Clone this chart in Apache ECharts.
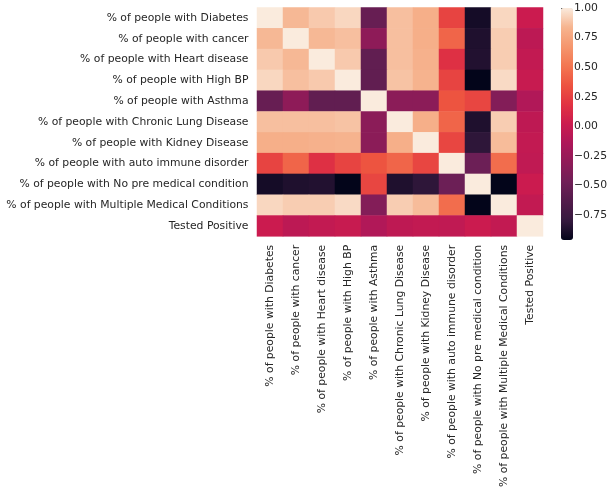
<!DOCTYPE html>
<html>
<head>
<meta charset="utf-8">
<script src="https://cdn.jsdelivr.net/npm/echarts@6/dist/echarts.min.js"></script>
<style>
  html, body { margin: 0; padding: 0; background: #fff; }
  #chart { width: 610px; height: 490px; }
</style>
</head>
<body>
<div id="chart"></div>
<script>
const labels = [
  "% of people with Diabetes",
  "% of people with cancer",
  "% of people with Heart disease",
  "% of people with High BP",
  "% of people with Asthma",
  "% of people with Chronic Lung Disease",
  "% of people with Kidney Disease",
  "% of people with auto immune disorder",
  "% of people with No pre medical condition",
  "% of people with Multiple Medical Conditions",
  "Tested Positive",
];

// correlation matrix, rows in label order
const corr = [
  [1.00, 0.85, 0.90, 0.94, -0.52, 0.87, 0.81, 0.27, -0.90, 0.94, 0.02],
  [0.85, 1.00, 0.85, 0.87, -0.31, 0.87, 0.81, 0.43, -0.87, 0.91, -0.06],
  [0.90, 0.85, 1.00, 0.90, -0.55, 0.87, 0.82, 0.16, -0.86, 0.91, -0.03],
  [0.94, 0.87, 0.90, 1.00, -0.55, 0.88, 0.83, 0.27, -0.96, 0.95, 0.00],
  [-0.52, -0.31, -0.55, -0.55, 1.00, -0.33, -0.33, 0.35, 0.28, -0.37, -0.12],
  [0.87, 0.87, 0.87, 0.88, -0.33, 1.00, 0.81, 0.43, -0.87, 0.91, -0.05],
  [0.81, 0.81, 0.82, 0.83, -0.33, 0.81, 1.00, 0.28, -0.82, 0.86, -0.03],
  [0.27, 0.43, 0.16, 0.27, 0.35, 0.43, 0.28, 1.00, -0.49, 0.47, -0.04],
  [-0.90, -0.87, -0.86, -0.96, 0.28, -0.87, -0.82, -0.49, 1.00, -0.96, 0.02],
  [0.94, 0.91, 0.91, 0.95, -0.37, 0.91, 0.86, 0.47, -0.96, 1.00, -0.03],
  [0.02, -0.06, -0.03, 0.00, -0.12, -0.05, -0.03, -0.04, 0.02, -0.03, 1.00],
];

const cbarTicks = [-0.75, -0.5, -0.25, 0, 0.25, 0.5, 0.75, 1];

// seaborn "rocket", sampled evenly
const ROCKET = [
  "#03051a", "#35193e", "#521c4b", "#701f57", "#8f1b58", "#ad1759", "#cb1b4f",
  "#e13342", "#ed5340", "#f37651", "#f5966d", "#f6b48f", "#faebdd",
];

const cells = [];
corr.forEach((row, y) => row.forEach((v, x) => cells.push([x, y, v])));
const allVals = corr.flat();
const vmin = Math.min(...allVals);
const vmax = Math.max(...allVals);

const FONT = "DejaVu Sans";
const TEXT = "#262626";
const FS = 10.8;

const chart = echarts.init(document.getElementById("chart"), null, { renderer: "canvas" });

chart.setOption({
  animation: false,
  textStyle: { fontFamily: FONT },
  grid: [
    { left: 257, top: 7.5, width: 286, height: 233 },
    { left: 561, top: 8, width: 12, height: 232 },
  ],
  xAxis: [
    {
      type: "category",
      gridIndex: 0,
      data: labels,
      axisLine: { show: false },
      axisTick: { alignWithLabel: true, length: 3.5, lineStyle: { color: TEXT, width: 0.8 } },
      axisLabel: { rotate: 90, interval: 0, margin: 8.5, fontSize: FS, color: TEXT, fontFamily: FONT },
      splitLine: { show: false },
    },
    { type: "value", gridIndex: 1, show: false, min: 0, max: 1 },
  ],
  yAxis: [
    {
      type: "category",
      gridIndex: 0,
      inverse: true,
      data: labels,
      axisLine: { show: false },
      axisTick: { alignWithLabel: true, length: 3.5, lineStyle: { color: TEXT, width: 0.8 } },
      axisLabel: { interval: 0, margin: 8.5, fontSize: FS, color: TEXT, fontFamily: FONT },
      splitLine: { show: false },
    },
    {
      type: "value",
      gridIndex: 1,
      position: "right",
      min: vmin,
      max: vmax,
      axisLine: { show: false },
      splitLine: { show: false },
      axisTick: {
        show: true,
        length: 3.5,
        customValues: cbarTicks,
        lineStyle: { color: TEXT, width: 0.8 },
      },
      axisLabel: {
        customValues: cbarTicks,
        margin: 7,
        fontSize: FS,
        color: TEXT,
        fontFamily: FONT,
        formatter: (v) => (v < 0 ? "\u2212" : "") + Math.abs(v).toFixed(2),
      },
    },
  ],
  visualMap: {
    type: "continuous",
    seriesIndex: 0,
    min: vmin,
    max: vmax,
    calculable: false,
    orient: "vertical",
    left: 561,
    top: 8,
    padding: 0,
    itemWidth: 12,
    itemHeight: 232,
    text: null,
    showLabel: false,
    inRange: { color: ROCKET },
  },
  series: [
    {
      type: "heatmap",
      xAxisIndex: 0,
      yAxisIndex: 0,
      data: cells,
      itemStyle: { borderWidth: 0 },
      emphasis: { disabled: true },
    },
    {
      type: "scatter",
      xAxisIndex: 1,
      yAxisIndex: 1,
      data: [],
      silent: true,
    },
  ],
});
</script>
</body>
</html>
